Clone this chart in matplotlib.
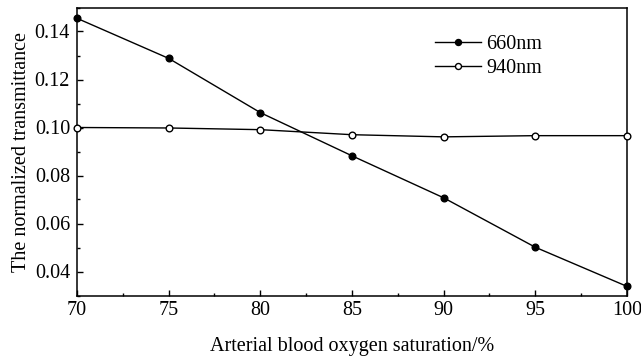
import matplotlib
matplotlib.use('Agg')
import matplotlib.pyplot as plt
from matplotlib.ticker import MultipleLocator

saturation = [70, 75, 80, 85, 90, 95, 100]
trans_660 = [0.1455, 0.1288, 0.1062, 0.0882, 0.0707, 0.0501, 0.0338]
trans_940 = [0.1000, 0.0998, 0.0991, 0.0970, 0.0961, 0.0966, 0.0966]

plt.rcParams['font.family'] = ['Liberation Serif', 'DejaVu Serif']
plt.rcParams['font.size'] = 14.5

fig = plt.figure(figsize=(6.41, 3.58), dpi=100)
ax = fig.add_axes([77 / 641, 1 - 295.5 / 358, 550 / 641, 288 / 358])

ax.plot(saturation, trans_660, color='black', lw=1.0, marker='o', ms=4.8,
        mfc='black', mec='black', label='660nm', clip_on=False, zorder=3)
ax.plot(saturation, trans_940, color='black', lw=1.0, marker='o', ms=4.8,
        mfc='white', mec='black', mew=1.0, label='940nm', clip_on=False, zorder=3)

ax.set_xlim(70, 100)
ax.set_ylim(0.03, 0.15)
ax.xaxis.set_major_locator(MultipleLocator(5))
ax.xaxis.set_minor_locator(MultipleLocator(2.5))
ax.yaxis.set_minor_locator(MultipleLocator(0.01))
ax.set_yticks([0.04, 0.06, 0.08, 0.10, 0.12, 0.14])
ax.set_yticklabels(['0.04', '0.06', '0.08', '0.10', '0.12', '0.14'])
ax.tick_params(which='both', direction='in', width=1.0)
ax.tick_params(which='major', length=4)
ax.tick_params(which='minor', length=2.2)
ax.tick_params(axis='x', which='major', pad=4)
ax.tick_params(axis='y', which='major', pad=5)
for s in ax.spines.values():
    s.set_linewidth(1.1)

ax.set_xlabel('Arterial blood oxygen saturation/%', labelpad=12)
ax.set_ylabel('The normalized transmittance', labelpad=2.5)

ax.legend(loc='upper left', bbox_to_anchor=(435 / 641, 1 - 35 / 358),
          bbox_transform=fig.transFigure, frameon=False, borderpad=0,
          handlelength=2.3, handletextpad=0.25, labelspacing=0.22,
          borderaxespad=0, markerscale=0.9)

fig.savefig('out.png', dpi=100)
